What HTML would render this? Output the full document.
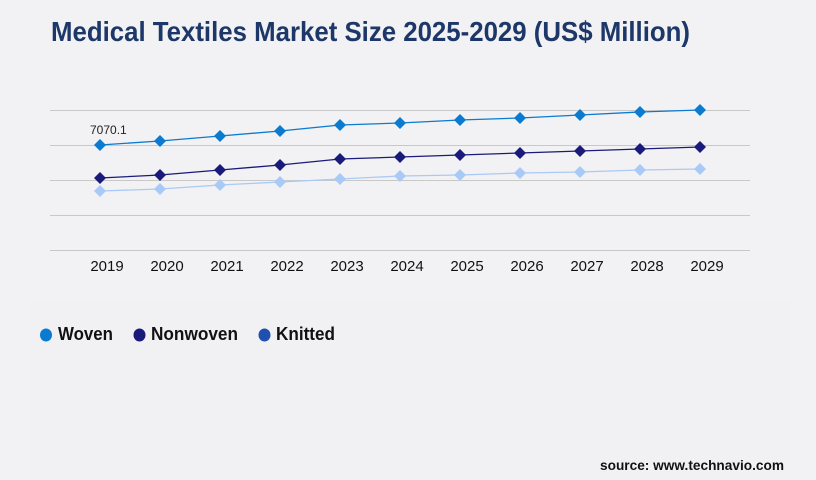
<!DOCTYPE html>
<html><head><meta charset="utf-8"><style>
html,body{margin:0;padding:0;background:#f2f2f4;}
svg{display:block;}
</style></head><body>
<svg width="816" height="480" viewBox="0 0 816 480" xmlns="http://www.w3.org/2000/svg" font-family="Liberation Sans, sans-serif">
<rect width="816" height="480" fill="#f2f2f4"/>
<rect x="30" y="300" width="760" height="180" fill="#f1f1f3"/>
<text x="51" y="41" font-size="28" font-weight="bold" fill="#1c3768" textLength="639" lengthAdjust="spacingAndGlyphs">Medical Textiles Market Size 2025-2029 (US$ Million)</text>
<g stroke="#c8c8c8" stroke-width="1">
<line x1="50" y1="110.5" x2="750" y2="110.5"/>
<line x1="50" y1="145.5" x2="750" y2="145.5"/>
<line x1="50" y1="180.5" x2="750" y2="180.5"/>
<line x1="50" y1="215.5" x2="750" y2="215.5"/>
<line x1="50" y1="250.5" x2="750" y2="250.5"/>
</g>
<g font-size="15" fill="#111" text-anchor="middle">
<text x="107" y="271">2019</text><text x="167" y="271">2020</text><text x="227" y="271">2021</text><text x="287" y="271">2022</text><text x="347" y="271">2023</text><text x="407" y="271">2024</text><text x="467" y="271">2025</text><text x="527" y="271">2026</text><text x="587" y="271">2027</text><text x="647" y="271">2028</text><text x="707" y="271">2029</text>
</g>
<defs><path id="d" d="M0,-6 L6,0 L0,6 L-6,0Z"/></defs>
<polyline fill="none" stroke="#a9c9f7" stroke-width="1.3" points="100,191 160,189 220,185 280,182 340,179 400,176 460,175 520,173 580,172 640,170 700,169"/>
<g fill="#a9c9f7"><use href="#d" x="100" y="191"/><use href="#d" x="160" y="189"/><use href="#d" x="220" y="185"/><use href="#d" x="280" y="182"/><use href="#d" x="340" y="179"/><use href="#d" x="400" y="176"/><use href="#d" x="460" y="175"/><use href="#d" x="520" y="173"/><use href="#d" x="580" y="172"/><use href="#d" x="640" y="170"/><use href="#d" x="700" y="169"/></g>
<polyline fill="none" stroke="#1a1a7a" stroke-width="1.3" points="100,178 160,175 220,170 280,165 340,159 400,157 460,155 520,153 580,151 640,149 700,147"/>
<g fill="#1a1a7a"><use href="#d" x="100" y="178"/><use href="#d" x="160" y="175"/><use href="#d" x="220" y="170"/><use href="#d" x="280" y="165"/><use href="#d" x="340" y="159"/><use href="#d" x="400" y="157"/><use href="#d" x="460" y="155"/><use href="#d" x="520" y="153"/><use href="#d" x="580" y="151"/><use href="#d" x="640" y="149"/><use href="#d" x="700" y="147"/></g>
<polyline fill="none" stroke="#0a7bd0" stroke-width="1.3" points="100,145 160,141 220,136 280,131 340,125 400,123 460,120 520,118 580,115 640,112 700,110"/>
<g fill="#0a7bd0"><use href="#d" x="100" y="145"/><use href="#d" x="160" y="141"/><use href="#d" x="220" y="136"/><use href="#d" x="280" y="131"/><use href="#d" x="340" y="125"/><use href="#d" x="400" y="123"/><use href="#d" x="460" y="120"/><use href="#d" x="520" y="118"/><use href="#d" x="580" y="115"/><use href="#d" x="640" y="112"/><use href="#d" x="700" y="110"/></g>
<text x="90" y="134" font-size="12" fill="#222">7070.1</text>
<g font-size="18" font-weight="bold" fill="#111">
<ellipse cx="46" cy="335" rx="6" ry="6.5" fill="#0a7bd0"/>
<text x="58" y="340" textLength="55" lengthAdjust="spacingAndGlyphs">Woven</text>
<ellipse cx="139.5" cy="335" rx="6" ry="6.5" fill="#1a1a7a"/>
<text x="151" y="340" textLength="87" lengthAdjust="spacingAndGlyphs">Nonwoven</text>
<ellipse cx="264.5" cy="335" rx="6" ry="6.5" fill="#1f4fb0"/>
<text x="276" y="340" textLength="59" lengthAdjust="spacingAndGlyphs">Knitted</text>
</g>
<text x="784" y="470" font-size="13.5" font-weight="bold" fill="#111" text-anchor="end" textLength="184" lengthAdjust="spacingAndGlyphs">source: www.technavio.com</text>
</svg>
</body></html>
